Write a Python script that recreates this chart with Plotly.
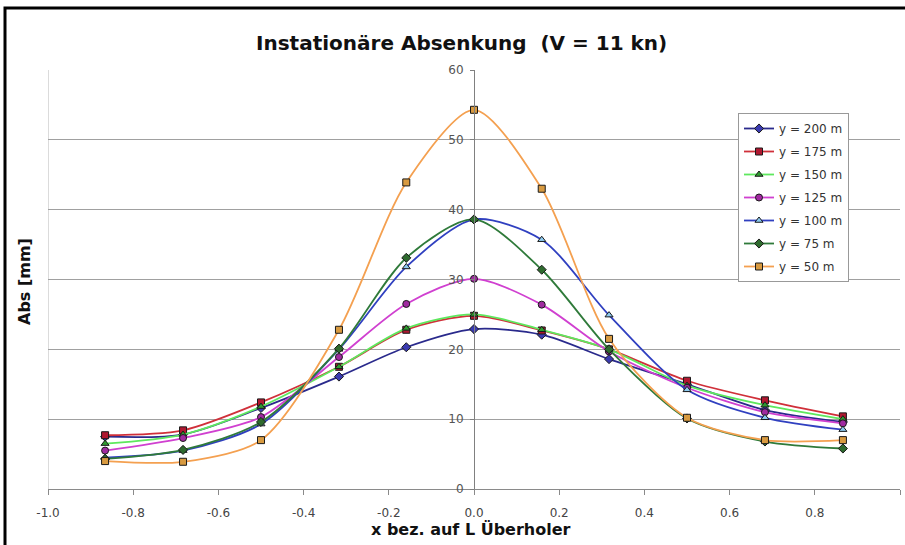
import plotly.graph_objects as go

# Position along the overtaking vessel (relative to its length L)
x_pos = [-0.866, -0.683, -0.5, -0.317, -0.159, 0.0, 0.159, 0.317, 0.5, 0.683, 0.866]

# Drawdown [mm] for each lateral distance y
abs_200 = [7.5, 7.8, 11.6, 16.1, 20.3, 22.9, 22.1, 18.6, 15.0, 11.3, 9.6]
abs_175 = [7.7, 8.4, 12.4, 17.5, 22.8, 24.8, 22.7, 20.0, 15.5, 12.7, 10.4]
abs_150 = [6.5, 7.8, 11.8, 17.5, 23.0, 25.0, 22.8, 20.0, 14.8, 12.0, 10.0]
abs_125 = [5.5, 7.3, 10.3, 18.9, 26.5, 30.1, 26.4, 19.7, 14.5, 11.0, 9.4]
abs_100 = [4.5, 5.5, 9.3, 20.0, 31.8, 38.6, 35.7, 24.9, 14.2, 10.2, 8.5]
abs_75 = [4.3, 5.6, 9.6, 20.1, 33.1, 38.6, 31.4, 20.0, 10.1, 6.8, 5.8]
abs_50 = [4.0, 3.9, 7.0, 22.8, 43.9, 54.3, 43.0, 21.5, 10.2, 7.0, 7.0]

series_names = ["y = 200 m", "y = 175 m", "y = 150 m", "y = 125 m",
                "y = 100 m", "y = 75 m", "y = 50 m"]
series_values = [abs_200, abs_175, abs_150, abs_125, abs_100, abs_75, abs_50]

x_ticks = [-1.0, -0.8, -0.6, -0.4, -0.2, 0.0, 0.2, 0.4, 0.6, 0.8, 1.0]
x_tick_text = ["-1.0", "-0.8", "-0.6", "-0.4", "-0.2", "0.0", "0.2", "0.4", "0.6", "0.8", "1.0"]
y_ticks = [0, 10, 20, 30, 40, 50, 60]

styles = [
    dict(line="#2a2a8c", fill="#3a3ab0", symbol="diamond"),
    dict(line="#d0303a", fill="#b01830", symbol="square"),
    dict(line="#5ee85e", fill="#2e9a2e", symbol="triangle-up"),
    dict(line="#d040d0", fill="#a02aa0", symbol="circle"),
    dict(line="#3040c0", fill="#8ccaf0", symbol="triangle-up"),
    dict(line="#2f7a3a", fill="#2e6a2e", symbol="diamond"),
    dict(line="#f4a050", fill="#d89a40", symbol="square"),
]

FONT = "DejaVu Sans, Liberation Sans, Arial, sans-serif"

# paper-coordinate helpers for a 852 x 419 px plot area at (48, 70)
def px_x(px):
    return (px - 48) / 852

def px_y(py):
    return (489 - py) / 419

fig = go.Figure()
for i, (name, vals, st) in enumerate(zip(series_names, series_values, styles)):
    fig.add_trace(go.Scatter(
        x=x_pos, y=vals, name=name, mode="lines+markers",
        legendgroup=f"g{i}",
        line=dict(color=st["line"], width=1.8, shape="spline", smoothing=0.8),
        marker=dict(symbol=st["symbol"], size=7, color=st["fill"],
                    line=dict(color="#1a1a1a", width=1)),
    ))

fig.update_layout(
    width=905, height=545,
    margin=dict(l=48, r=5, t=70, b=56),
    paper_bgcolor="white", plot_bgcolor="white",
    font=dict(family=FONT, color="#222"),
    showlegend=True,
    legend=dict(
        x=px_x(738), y=px_y(113), xanchor="left", yanchor="top",
        bgcolor="white", bordercolor="#999", borderwidth=1,
        font=dict(size=12, color="#333", family=FONT),
        tracegroupgap=4,
    ),
    xaxis=dict(
        range=[-1.0, 1.0], tickvals=x_ticks, ticktext=x_tick_text,
        showgrid=False, zeroline=False,
        showline=True, linecolor="#8a8a8a", linewidth=1,
        ticks="outside", ticklen=5, tickcolor="#8a8a8a",
        ticklabelstandoff=8,
        tickfont=dict(size=12, color="#444", family=FONT),
    ),
    yaxis=dict(
        range=[0, 60], tickvals=y_ticks,
        anchor="free", position=0.5,
        showgrid=True, gridcolor="#a0a0a0", gridwidth=1,
        zeroline=False,
        showline=True, linecolor="#808080", linewidth=1,
        ticks="outside", ticklen=4, tickcolor="#808080",
        ticklabelstandoff=4,
        tickfont=dict(size=12, color="#555", family=FONT),
    ),
    annotations=[
        dict(text="<b>Instationäre Absenkung  (V = 11 kn)</b>", xref="paper", yref="paper",
             x=px_x(461), y=px_y(43), xanchor="center", yanchor="middle",
             showarrow=False, font=dict(size=20, color="#111", family=FONT)),
        dict(text="<b>x bez. auf L Überholer</b>", xref="paper", yref="paper",
             x=px_x(471), y=px_y(529), xanchor="center", yanchor="middle",
             showarrow=False, font=dict(size=16, color="#111", family=FONT)),
        dict(text="<b>Abs [mm]</b>", xref="paper", yref="paper",
             x=px_x(24), y=px_y(282), xanchor="center", yanchor="middle",
             textangle=-90, showarrow=False, font=dict(size=16, color="#111", family=FONT)),
    ],
    shapes=[
        # outer chart frame
        dict(type="rect", xref="paper", yref="paper",
             x0=px_x(5), x1=px_x(915), y0=px_y(560), y1=px_y(8),
             line=dict(color="black", width=3), fillcolor="rgba(0,0,0,0)", layer="below"),
        # left edge of the plot area
        dict(type="line", xref="x", yref="y", x0=-1.0, x1=-1.0, y0=0, y1=60,
             line=dict(color="#b8b8b8", width=1), layer="below"),
    ],
)

fig.write_html("out.html")
